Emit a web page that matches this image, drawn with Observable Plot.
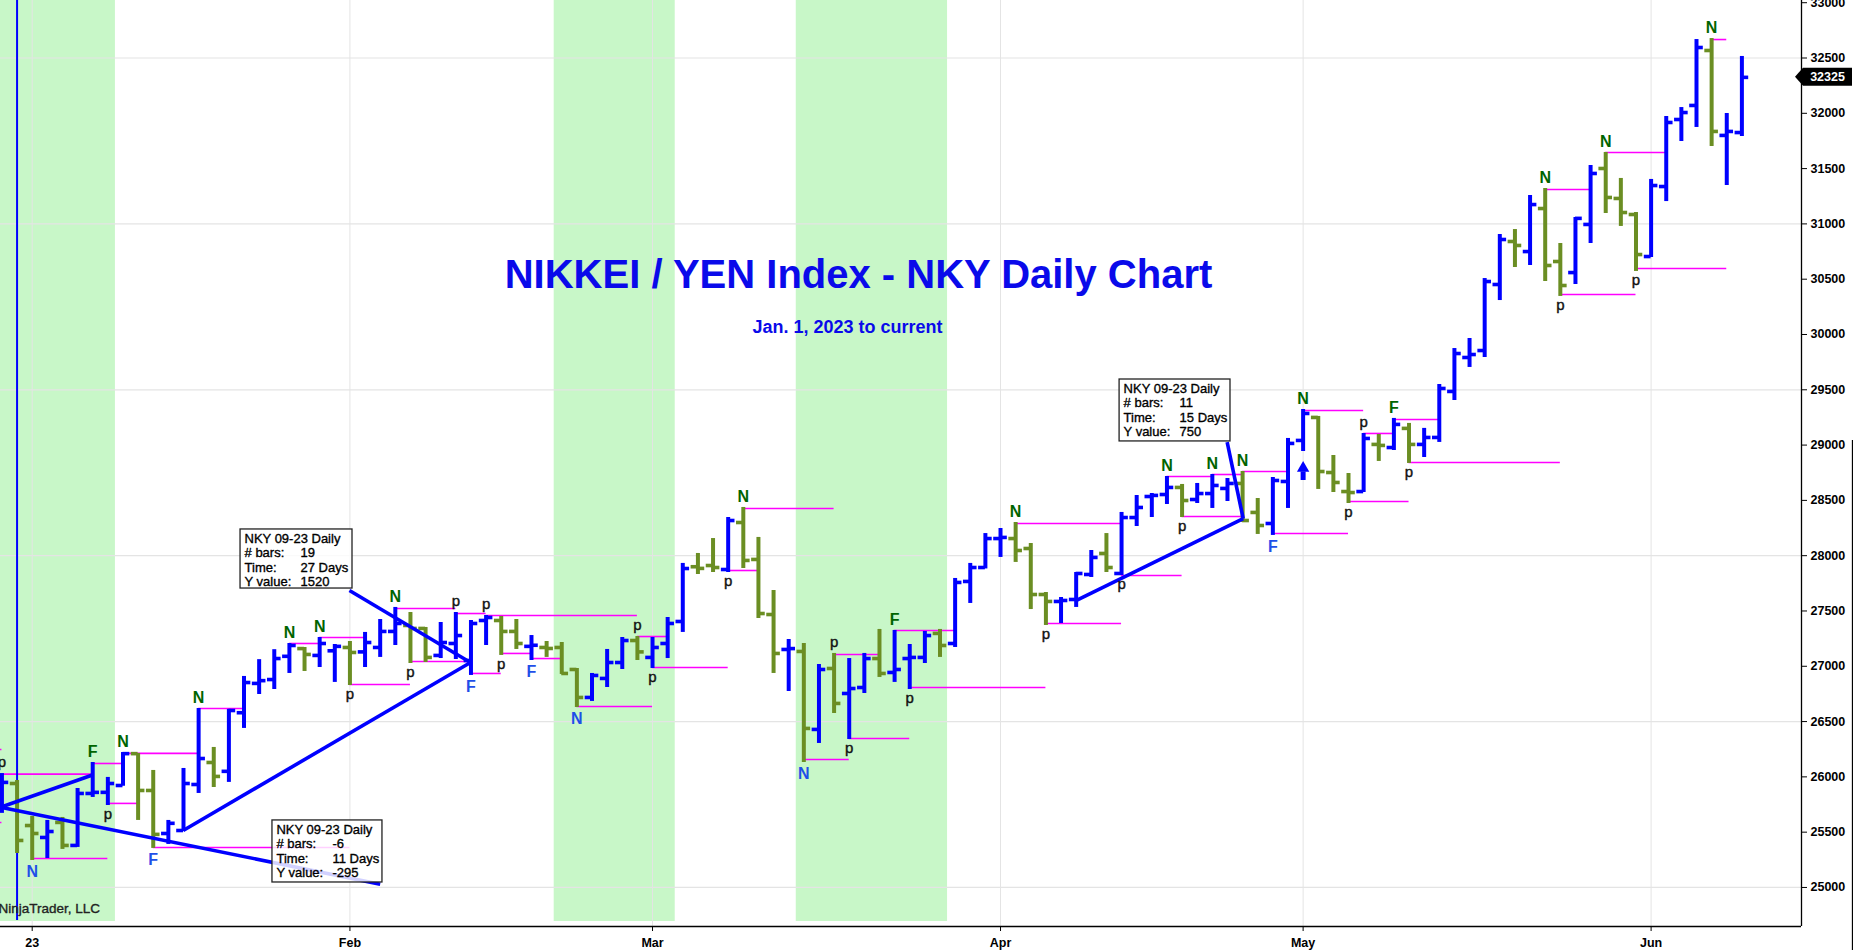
<!DOCTYPE html>
<html>
<head>
<meta charset="utf-8">
<script src="https://cdn.jsdelivr.net/npm/d3@7"></script>
<script src="https://cdn.jsdelivr.net/npm/@observablehq/plot@0.6"></script>
<style>
  html, body { margin: 0; padding: 0; background: #fff; }
  #chart { width: 1853px; height: 950px; overflow: hidden; }
</style>
</head>
<body>
<div id="chart"></div>
<script>
// ---- Daily OHLC bars (bar 1 = Dec 29, 2022 ... bar 116 = Jun 9, 2023) ----
const open = [
  25750,25940,25560,25452,25588,25380,25850,25860,25922,26210,
  25877,25488,25515,25931,26130,26050,26580,26845,26880,27090,
  27160,27098,27140,27170,27130,27170,27315,27369,27342,27098,
  27206,27052,27414,27414,27315,27180,27170,27170,26971,26718,
  26890,27034,27233,27080,27206,27405,27900,27911,27875,28300,
  27966,27468,27152,27134,26429,26980,26754,26808,27070,26944,
  27070,27080,27297,27206,27767,27893,28155,28155,28065,27649,
  27586,27604,27830,28020,27839,28345,28535,28553,28617,28508,
  28562,28608,28653,28391,28291,28671,29042,29250,28752,28580,
  28580,29006,28978,29151,29006,29069,29485,29792,29855,30452,
  30841,30750,31139,30660,30560,30995,31501,31230,31085,30705,
  31338,31944,32071,32568,31800,31826];
const high = [
  26030,25967,25642,25606,25633,25895,26130,25995,26220,26212,
  26058,25606,26076,26618,26266,26610,26908,27060,27150,27206,
  27170,27260,27197,27224,27306,27423,27532,27486,27351,27396,
  27486,27414,27459,27450,27423,27278,27224,27215,26980,26935,
  27152,27260,27269,27260,27441,27930,28020,28155,28345,28436,
  28165,27685,27242,27206,27016,27116,27070,27116,27333,27324,
  27197,27315,27333,27794,27930,28200,28246,28300,28110,27667,
  27622,27848,28047,28200,28391,28544,28562,28716,28644,28653,
  28734,28698,28761,28517,28707,29060,29322,29259,28906,28743,
  29105,29096,29241,29196,29151,29548,29873,29964,30506,30904,
  30949,31257,31320,30823,31058,31528,31646,31411,31103,31402,
  31971,32052,32667,32676,31998,32514];
const low = [
  25670,25307,25244,25262,25344,25362,25814,25741,25915,25606,
  25353,25389,25506,25850,25904,25950,26438,26745,26790,26935,
  26953,26989,26854,26826,26989,27080,27188,27025,27034,27070,
  27061,26917,27188,27098,27152,27052,27080,26926,26627,26682,
  26808,26971,27052,26980,27070,27306,27830,27848,27848,27884,
  27432,26935,26772,26130,26302,26573,26338,26754,26899,26854,
  26790,27025,27080,27170,27568,27880,27984,27939,27513,27369,
  27387,27532,27803,27848,27821,28264,28345,28463,28345,28472,
  28427,28490,28300,28192,28183,28427,28942,28599,28571,28472,
  28571,28852,28951,28834,28888,29024,29403,29702,29792,30307,
  30606,30624,30479,30344,30452,30823,31094,30977,30570,30696,
  31202,31745,31872,31700,31347,31790];
const close = [
  25950,25425,25488,25506,25380,25850,25860,25940,26210,25877,
  25480,25580,25940,26166,26004,26600,26853,26870,27070,27188,
  27107,27206,27180,27125,27215,27315,27387,27342,27080,27215,
  27278,27387,27441,27315,27206,27190,27161,26935,26718,26917,
  27034,27233,27130,27170,27387,27884,27885,27893,28318,27957,
  27477,27116,27160,26438,26971,26664,26799,27070,26935,26971,
  27080,27278,27188,27758,27893,28155,28165,28047,27649,27586,
  27595,27839,27984,27893,28345,28436,28545,28617,28499,28562,
  28635,28653,28318,28273,28680,29015,29286,28761,28662,28571,
  29060,28997,29187,29006,29069,29512,29828,29819,30479,30859,
  30805,31175,30624,30443,31050,31456,31239,31103,30723,31347,
  31917,32007,32595,31836,31836,32325];

// ---- x axis (month starts, as bar numbers) ----
const monthBars = [3, 24, 44, 67, 87, 110];
const monthLabels = ["23", "Feb", "Mar", "Apr", "May", "Jun"];
// ---- y axis ----
const yTicks = [25000,25500,26000,26500,27000,27500,28000,28500,29000,29500,30000,30500,31000,31500,32000,32500,33000];
const yGrid = [25000, 26500, 28000, 29500, 31000, 32500];

// ---- green time windows (bar units) ----
const shadeStart = [0.905, 37.5, 53.5];
const shadeEnd = [8.5, 45.5, 63.5];

// ---- magenta pivot lines: start bar, end bar, price ----
const pivStart = [0.905,0.905,1,7,9,8,3,11,14,20,22,24,27,28,31,33,32,34,36,39,43,44,50,49,54,56,57,60,61,68,70,75,78,81,79,83,85,87,90,91,93,94,103,107,104,109,114];
const pivEnd   = [1,1,7,9,14,10,8,24,17,22,25,28,31,32,33,43,34,36,38,44,45,49,56,51,57,59,61,64,70,75,75,79,81,83,83,86,90,91,94,93,96,104,106,111,109,115,115];
const pivPrice = [26248,25588,26025,26121,26212,25760,25262,25362,26618,27206,27260,26835,27523,27043,27477,27459,26935,27116,27070,26636,27269,26989,28427,27866,26157,27107,26347,27324,26808,28291,27387,27821,28716,28734,28354,28761,28200,29313,28490,29105,29232,28843,31311,31645,30362,30597,32667];

// ---- signal letters ----
const hiSigBars = [7,9,14,20,22,27,50,60,68,78,81,83,87,93,103,107,114];
const hiSigText = ["F","N","N","N","N","N","N","F","N","N","N","N","N","F","N","N","N"];
const loSigBars = [3,11,32,36,39,54,85];
const loSigText = ["N","F","F","F","N","N","F"];
const pHiBars = [1,31,33,43,56,91];
const pLoBars = [8,24,28,34,44,49,57,61,70,75,79,90,94,104,109];

// ---- drawn trend lines ----
const lineX1 = [0.905, 0.905, 12.98, 23.97, 72.02, 81.98];
const lineY1 = [25725, 25725, 25515, 27685, 27595, 29026];
const lineX2 = [7.03, 26.0, 31.97, 31.97, 83.04, 83.04];
const lineY2 = [26019, 25030, 27034, 27034, 28334, 28334];

// ---- measurement boxes ----
const boxX1 = [16.77, 18.88, 74.87];
const boxX2 = [24.17, 26.15, 82.2];
const boxTop = [28237, 25606, 29593];
const boxBottom = [27703, 25045, 29033];
const boxBarsCount = [19, -6, 11];
const boxDays = [27, 11, 15];
const boxYValue = [1520, -295, 750];

// ---- other annotations ----
const cursorBar = 2;
const arrowBar = 87;
const titleText = "NIKKEI / YEN Index - NKY Daily Chart";
const subtitleText = "Jan. 1, 2023 to current";
const creditText = "NinjaTrader, LLC";

// ---------------- build ----------------
const X_DOMAIN = [0.905, 119.94];
const Y_DOMAIN = [24647, 33020];
const UP = "#0000ff", DOWN = "#6b8e23";
const GREEN_LBL = "#006400", BLUE_LBL = "#1f4fe8", MAGENTA = "#ff00ff", GRID = "#e4e4e4";
const FONT = "Liberation Sans, Arial, Helvetica, sans-serif";

const bars = open.map((o, k) => ({i: k + 1, o, h: high[k], l: low[k], c: close[k], up: close[k] >= o}));
const colorOf = d => d.up ? UP : DOWN;
const shades = shadeStart.map((s, k) => ({x1: s, x2: shadeEnd[k]}));
const pivots = pivStart.map((s, k) => ({x1: s, x2: pivEnd[k], y: pivPrice[k]}));
const hiSig = hiSigBars.map((b, k) => ({x: b, y: high[b - 1], t: hiSigText[k]}));
const loSig = loSigBars.map((b, k) => ({x: b, y: low[b - 1], t: loSigText[k]}));
const pHi = pHiBars.map(b => ({x: b, y: high[b - 1]}));
const pLo = pLoBars.map(b => ({x: b, y: low[b - 1]}));
const links = lineX1.map((x, k) => ({x1: x, y1: lineY1[k], x2: lineX2[k], y2: lineY2[k]}));
const boxes = boxX1.map((x, k) => ({
  x1: x, x2: boxX2[k], y1: boxBottom[k], y2: boxTop[k],
  labels: "NKY 09-23 Daily\n# bars:\nTime:\nY value:",
  values: `\n${boxBarsCount[k]}\n${boxDays[k]} Days\n${boxYValue[k]}`
}));
const lastClose = close[close.length - 1];
const arrowLow = low[arrowBar - 1];

// helper scales (same as the plot's) to place annotation items given in pixels
const xs = d3.scaleLinear().domain(X_DOMAIN).range([0, 1801]);
const ys = d3.scaleLinear().domain(Y_DOMAIN).range([926, 0]);
const tagX = [xs.invert(1795), xs.invert(1803), xs.invert(1852)];
const tagHalf = ys.invert(0) - ys.invert(9);
const tag = [
  {x: tagX[0], y1: lastClose, y2: lastClose},
  {x: tagX[1], y1: lastClose - tagHalf, y2: lastClose + tagHalf},
  {x: tagX[2], y1: lastClose - tagHalf, y2: lastClose + tagHalf}
];
const heavy = {stroke: "currentColor", strokeWidth: 0.35};

const chart = Plot.plot({
  width: 1853,
  height: 950,
  marginLeft: 0,
  marginRight: 52,
  marginTop: 0,
  marginBottom: 24,
  x: {domain: X_DOMAIN},
  y: {domain: Y_DOMAIN},
  style: {fontFamily: FONT, fontSize: "12.5px", background: "#fff", color: "#000", overflow: "visible"},
  marks: [
    Plot.rect(shades, {x1: "x1", x2: "x2", y1: ys.invert(921), y2: Y_DOMAIN[1], fill: "#c8f7c8"}),
    Plot.ruleX(monthBars, {stroke: GRID, strokeWidth: 1}),
    Plot.ruleY(yGrid, {stroke: GRID, strokeWidth: 1.2}),
    Plot.ruleY([Y_DOMAIN[0]], {x1: X_DOMAIN[0], x2: X_DOMAIN[1], stroke: "#000", strokeWidth: 1.3}),
    Plot.ruleX([X_DOMAIN[1]], {y1: Y_DOMAIN[0], y2: Y_DOMAIN[1], stroke: "#000", strokeWidth: 1.3}),
    Plot.ruleX([xs.invert(1852)], {y1: ys.invert(950), y2: ys.invert(440), stroke: "#000", strokeWidth: 1.3}),
    Plot.ruleY(pivots, {x1: "x1", x2: "x2", y: "y", stroke: MAGENTA, strokeWidth: 1.6}),
    Plot.ruleX([cursorBar], {y1: ys.invert(920), y2: Y_DOMAIN[1], stroke: UP, strokeWidth: 2}),
    // OHLC bars
    Plot.ruleX(bars, {x: "i", y1: "l", y2: "h", stroke: colorOf, strokeWidth: 4}),
    Plot.ruleY(bars, {y: "o", x1: d => d.i - 0.45, x2: d => d.i, stroke: colorOf, strokeWidth: 3.6}),
    Plot.ruleY(bars, {y: "c", x1: d => d.i, x2: d => d.i + 0.45, stroke: colorOf, strokeWidth: 3.6}),
    // trend lines
    Plot.link(links, {x1: "x1", y1: "y1", x2: "x2", y2: "y2", stroke: UP, strokeWidth: 3.6}),
    // signal letters
    Plot.text(hiSig, {x: "x", y: "y", text: "t", dy: -11, fill: GREEN_LBL, fontWeight: "bold", fontSize: 16}),
    Plot.text(loSig, {x: "x", y: "y", text: "t", dy: 11, fill: BLUE_LBL, fontWeight: "bold", fontSize: 16}),
    Plot.text(pHi, {x: "x", y: "y", text: () => "p", dy: -11.5, fill: "#111", fontSize: 15, stroke: "#111", strokeWidth: 0.4}),
    Plot.text(pLo, {x: "x", y: "y", text: () => "p", dy: 8.5, fill: "#111", fontSize: 15, stroke: "#111", strokeWidth: 0.4}),
    // up arrow
    Plot.ruleX([arrowBar], {y1: arrowLow - 262, y2: arrowLow - 185, stroke: UP, strokeWidth: 5}),
    Plot.dot([arrowBar], {x: d => d, y: arrowLow - 150, symbol: "triangle", r: 4.6, fill: UP, stroke: "none"}),
    // measurement boxes
    Plot.rect(boxes, {x1: "x1", x2: "x2", y1: "y1", y2: "y2", fill: "#fff", fillOpacity: 0.82, stroke: "#222", strokeWidth: 1.3}),
    Plot.text(boxes, {x: "x1", y: "y2", text: "labels", dx: 4, dy: 3, textAnchor: "start", lineAnchor: "top", lineHeight: 1.115, fontSize: 13, fill: "#000", stroke: "#000", strokeWidth: 0.35}),
    Plot.text(boxes, {x: "x1", y: "y2", text: "values", dx: 60, dy: 3, textAnchor: "start", lineAnchor: "top", lineHeight: 1.115, fontSize: 13, fill: "#000", stroke: "#000", strokeWidth: 0.35}),
    // title
    Plot.text([titleText], {x: xs.invert(858), y: ys.invert(274.5), text: d => d, fill: "#0a0aea", fontWeight: "bold", fontSize: 40}),
    Plot.text([subtitleText], {x: xs.invert(847), y: ys.invert(326.5), text: d => d, fill: "#0a0aea", fontWeight: "bold", fontSize: 18}),
    Plot.text([creditText], {x: X_DOMAIN[0], y: ys.invert(908), text: d => d, dx: -2, textAnchor: "start", fill: "#222", fontSize: 13.5, stroke: "#222", strokeWidth: 0.35}),
    // axes
    Plot.axisX(monthBars, {anchor: "bottom", tickSize: 5, tickPadding: 7, label: null, tickFormat: d => monthLabels[monthBars.indexOf(d)], fontWeight: "bold", fontSize: 12.5}),
    Plot.axisY(yTicks, {anchor: "right", tickSize: 5, tickPadding: 4, label: null, tickFormat: "d", fontWeight: "bold", fontSize: 12.5}),
    // last price tag
    Plot.areaY(tag, {x: "x", y1: "y1", y2: "y2", fill: "#000", curve: "linear"}),
    Plot.text([lastClose], {x: xs.invert(1827), y: d => d, text: d => String(d), fill: "#fff", fontWeight: "bold", fontSize: 12.5})
  ]
});
document.getElementById("chart").appendChild(chart);
</script>
</body>
</html>
